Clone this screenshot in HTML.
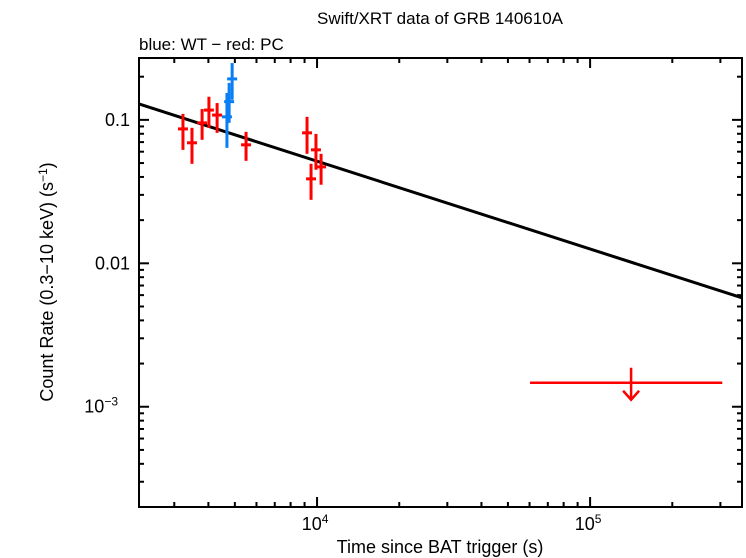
<!DOCTYPE html>
<html><head><meta charset="utf-8"><style>
body{margin:0;background:#fff}
svg{display:block;font-family:"Liberation Sans",sans-serif}
</style></head><body>
<svg id="c" width="746" height="558">
<text x="440" y="24" font-size="17" text-anchor="middle">Swift/XRT data of GRB 140610A</text>
<text x="139" y="50" font-size="17">blue: WT − red: PC</text>
<text x="440" y="553" font-size="18" text-anchor="middle">Time since BAT trigger (s)</text>
<text transform="translate(53,282) rotate(-90)" font-size="18" text-anchor="middle">Count Rate (0.3−10 keV) (s<tspan font-size="12" dy="-6">−1</tspan><tspan dy="6">)</tspan></text>
<g id="axes"></g><g id="marks"></g>
</svg>
<script>
const pcT=[3228,3483,3793,4018,4305,5495,9190,9506,9908,10345];
const pcR=[0.0865,0.0692,0.0953,0.117,0.108,0.067,0.0812,0.0388,0.0618,0.047];
const pcLo=[0.0618,0.0494,0.0726,0.088,0.0812,0.0518,0.058,0.0277,0.0449,0.0353];
const pcHi=[0.11,0.088,0.119,0.145,0.131,0.0825,0.105,0.0494,0.0799,0.058];
const wtT=[4677,4764,4887];
const wtR=[0.105,0.134,0.193];
const wtLo=[0.0638,0.0953,0.138];
const wtHi=[0.154,0.181,0.249];
const ulT=[141300];const ulR=[0.00147];const ulTlo=[60260];const ulThi=[304800];
const fitNorm=0.0515, fitIndex=0.612;
const yTickVals=[0.1,0.01,0.001];
const yTickLabels=["0.1","0.01","10"];
const xTickVals=[1e4,1e5];

const L=139,R=742,T=58,B=507;
const xmin=Math.log10(2228),xmax=Math.log10(360000);
const ymin=Math.log10(0.0002),ymax=Math.log10(0.27);
const X=t=>L+(Math.log10(t)-xmin)/(xmax-xmin)*(R-L);
const Y=r=>B-(Math.log10(r)-ymin)/(ymax-ymin)*(B-T);
const NS="http://www.w3.org/2000/svg";
function mk(p,tag,a){const e=document.createElementNS(NS,tag);for(const k in a)e.setAttribute(k,a[k]);p.appendChild(e);return e;}
const ax=document.getElementById('axes'),mg=document.getElementById('marks');
const frame=mk(ax,'rect',{x:L,y:T,width:R-L,height:B-T,fill:'none',stroke:'#000','stroke-width':2});


for(let d=3;d<=5;d++)for(let m=1;m<10;m++){const t=m*Math.pow(10,d);if(t<2228||t>360000)continue;const x=X(t),len=m==1?10:5;
mk(ax,'line',{x1:x,x2:x,y1:B,y2:B-len,stroke:'#000','stroke-width':2});
mk(ax,'line',{x1:x,x2:x,y1:T,y2:T+len,stroke:'#000','stroke-width':2});}
for(let d=-4;d<=-1;d++)for(let m=1;m<10;m++){const r=m*Math.pow(10,d);if(r<0.0002||r>0.27)continue;const y=Y(r),len=m==1?10:5;
mk(ax,'line',{x1:L,x2:L+len,y1:y,y2:y,stroke:'#000','stroke-width':2});
mk(ax,'line',{x1:R,x2:R-len,y1:y,y2:y,stroke:'#000','stroke-width':2});}
xTickVals.forEach((t,i)=>{const g=mk(ax,'text',{x:X(t)-2,y:530,'font-size':18,'text-anchor':'middle'});


g.textContent='10';const s=mk(g,'tspan',{'font-size':12,dy:-7});s.textContent=String(4+i);});
yTickVals.forEach((r,i)=>{const g=mk(ax,'text',{x:i==2?118:130,y:Y(r)+6,'font-size':18,'text-anchor':'end'});


g.textContent=yTickLabels[i];if(i==2){const s=mk(g,'tspan',{'font-size':12,dy:-7});s.textContent='−3';}});
const fit=mk(mg,'line',{x1:L,y1:Y(fitNorm*Math.pow(2228/1e4,-fitIndex)),x2:R,y2:Y(fitNorm*Math.pow(360000/1e4,-fitIndex)),stroke:'#000','stroke-width':3});


function pt(t,r,lo,hi,col,name){const g=mk(mg,'g',{stroke:col,'stroke-width':3});


const x=X(t);mk(g,'line',{x1:x,x2:x,y1:Y(hi),y2:Y(lo)});mk(g,'line',{x1:X(t/1.043),x2:X(t*1.043),y1:Y(r),y2:Y(r)});}
pcT.forEach((t,i)=>pt(t,pcR[i],pcLo[i],pcHi[i],'#f00','pc-point'));
wtT.forEach((t,i)=>pt(t,wtR[i],wtLo[i],wtHi[i],'#0a7ff5','wt-point'));
ulT.forEach((t,i)=>{const g=mk(mg,'g',{stroke:'#f00','stroke-width':2.5,fill:'none'});


const x=X(t),y=Y(ulR[i]);mk(g,'line',{x1:X(ulTlo[i]),x2:X(ulThi[i]),y1:y,y2:y});
mk(g,'line',{x1:x,x2:x,y1:y-15,y2:y+17});mk(g,'polyline',{points:`${x-8},${y+8} ${x},${y+17} ${x+8},${y+8}`});});
</script>
</body></html>
